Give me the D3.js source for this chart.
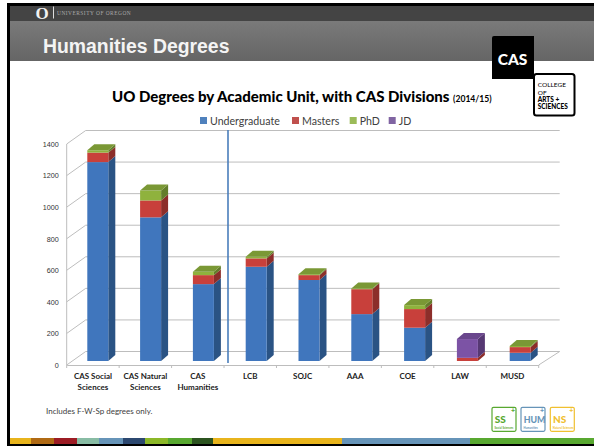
<!DOCTYPE html>
<html lang="en">
<head>
<meta charset="utf-8">
<title>Humanities Degrees</title>
<script src="https://cdn.jsdelivr.net/npm/d3@7"></script>
<style>
  html, body { margin: 0; padding: 0; background: #fff; }
  svg { display: block; }
  text { font-family: Lato, "Open Sans", sans-serif; }
  .head { font-family: "Liberation Sans", Arial, sans-serif; }
</style>
</head>
<body>
<div id="chart"></div>
<script>
var categories = [["CAS Social", "Sciences"], ["CAS Natural", "Sciences"], ["CAS", "Humanities"], ["LCB"], ["SOJC"], ["AAA"], ["COE"], ["LAW"], ["MUSD"]];
var seriesNames = ["Undergraduate", "Masters", "PhD", "JD"];
var undergraduate = [1260, 910, 487, 597, 513, 297, 211, 0, 52];
var masters = [60, 107, 57, 53, 31, 158, 118, 20, 36];
var phd = [15, 63, 21, 10, 6, 5, 25, 0, 7];
var jd = [0, 0, 0, 0, 0, 0, 0, 119, 0];
var yTicks = [0, 200, 400, 600, 800, 1000, 1200, 1400];
var stripeColors = ["#e8b41c", "#b06a14", "#9c1c24", "#88bca4", "#6694b8", "#2c4870", "#8cb828", "#58a830", "#2c5420", "#e8b41c", "#6694b8", "#58a830"];
var stripeStops = [10, 31, 54, 77, 99, 123, 145, 168, 192, 213, 342, 470, 594];

var colors = { Undergraduate: "#3f76bd", Masters: "#c8403a", PhD: "#8fb23e", JD: "#7c52a5" };
var legendColors = { Undergraduate: "#4f81bd", Masters: "#c0504d", PhD: "#9bbb59", JD: "#8064a2" };

var width = 594, height = 446;
var depthX = 19, depthY = 13.5;   // floor depth of the fake 3d box
var barDX = 7, barDY = 6;         // depth of each bar
var baseLift = 4;

var svg = d3.select("#chart").append("svg")
    .attr("width", width)
    .attr("height", height)
    .attr("viewBox", "0 0 " + width + " " + height);

var defs = svg.append("defs");
var grad = defs.append("linearGradient").attr("id", "band").attr("x1", 0).attr("y1", 0).attr("x2", 0).attr("y2", 1);
grad.append("stop").attr("offset", 0).attr("stop-color", "#7a7a7a");
grad.append("stop").attr("offset", 1).attr("stop-color", "#656565");
defs.append("filter").attr("id", "soft").append("feGaussianBlur").attr("stdDeviation", 0.4);

// slide frame
svg.append("rect").attr("x", 7).attr("y", 3).attr("width", 587).attr("height", 443).attr("fill", "#000");
svg.append("rect").attr("x", 10).attr("y", 61).attr("width", 584).attr("height", 377).attr("fill", "#fff");
svg.append("rect").attr("x", 10).attr("y", 6).attr("width", 584).attr("height", 15).attr("fill", "#444");
svg.append("rect").attr("x", 10).attr("y", 21).attr("width", 584).attr("height", 40).attr("fill", "url(#band)");

svg.selectAll("rect.stripe").data(stripeColors).enter().append("rect")
    .attr("class", "stripe")
    .attr("x", function(d, i) { return stripeStops[i]; })
    .attr("y", 438)
    .attr("width", function(d, i) { return stripeStops[i + 1] - stripeStops[i]; })
    .attr("height", 6)
    .attr("fill", function(d) { return d; });

// header text
svg.append("text").attr("x", 35.5).attr("y", 18.5).attr("fill", "#f2f2f2")
    .style("font-family", "'Liberation Serif', serif").style("font-size", "17px").style("font-weight", "bold").text("O");
svg.append("line").attr("x1", 53.5).attr("x2", 53.5).attr("y1", 6.5).attr("y2", 18.5).attr("stroke", "#ddd");
svg.append("text").attr("x", 57).attr("y", 14.5).attr("fill", "#aaa")
    .style("font-family", "'Liberation Serif', serif").style("font-size", "5.4px").style("letter-spacing", "0.5px").text("UNIVERSITY OF OREGON");
svg.append("text").attr("class", "head").attr("x", 43).attr("y", 53).attr("fill", "#f4f4f4")
    .style("font-size", "19.4px").style("font-weight", "bold").text("Humanities Degrees");

// CAS logos
svg.append("path").attr("d", "M494 36h40v43h-42v-41a2 2 0 0 1 2-2z").attr("fill", "#000");
svg.append("text").attr("x", 512.5).attr("y", 64.5).attr("text-anchor", "middle").attr("fill", "#fff")
    .style("font-size", "15.5px").style("font-weight", "900").text("CAS");
svg.append("rect").attr("x", 534).attr("y", 74).attr("width", 40.5).attr("height", 41.5).attr("rx", 2.5)
    .attr("fill", "#fff").attr("stroke", "#000").attr("stroke-width", 2);
[["COLLEGE", 400], ["OF", 400], ["ARTS +", 900], ["SCIENCES", 900]].forEach(function(d, i) {
  svg.append("text").attr("x", 537.7).attr("y", 87.3 + i * 7.2).attr("fill", "#000")
      .style("font-size", "6.5px").style("font-weight", d[1]).text(d[0]);
});

// titles
var title = svg.append("text").attr("x", 112).attr("y", 102).attr("fill", "#000")
    .style("font-size", "15px").style("font-weight", "900");
title.append("tspan").text("UO Degrees by Academic Unit, with CAS Divisions ");
title.append("tspan").style("font-size", "8.6px").style("font-weight", "bold").text("(2014/15)");

// legend
var legendX = [200, 292, 349.7, 388.7];
var legend = svg.selectAll("g.legend").data(seriesNames).enter().append("g")
    .attr("class", "legend")
    .attr("transform", function(d, i) { return "translate(" + legendX[i] + ",117)"; });
legend.append("rect").attr("width", 7).attr("height", 7).attr("fill", function(d) { return legendColors[d]; });
legend.append("text").attr("x", 10).attr("y", 7.5).attr("fill", "#404040").style("font-size", "10.6px").text(function(d) { return d; });

// scales
var x = d3.scaleBand().domain(d3.range(categories.length)).range([66.7, 538.7]);
var barX = d3.scalePoint().domain(d3.range(categories.length)).range([87.3, 509.7]);  // bars sit on the floor, step is a bit wider
var y = d3.scaleLinear().domain([0, 1400]).range([365, 144]);

var stacked = d3.stack().keys(seriesNames).value(function(d, key) { return d[key]; })(
  categories.map(function(c, i) {
    return { Undergraduate: undergraduate[i], Masters: masters[i], PhD: phd[i], JD: jd[i] };
  })
);

// walls
var grid = svg.append("g").attr("fill", "none").attr("stroke", "#bdbdbd").attr("stroke-width", 1);
grid.selectAll("path.wall").data(yTicks).enter().append("path")
    .attr("class", "wall")
    .attr("d", function(d) {
      var yy = y(d);
      return "M" + x.range()[0] + "," + yy + "L" + (x.range()[0] + depthX) + "," + (yy - depthY) + "H" + (x.range()[1] + depthX + 2);
    });
grid.append("path").attr("d", "M" + x.range()[0] + "," + y(0) + "V" + y(1400));
grid.append("path").attr("d", "M" + (x.range()[1]) + "," + y(0) + "L" + (x.range()[1] + depthX + 2) + "," + (y(0) - depthY));
grid.attr("filter", "url(#soft)");

// x axis
var xAxis = d3.axisBottom(x).tickValues([]).tickSize(0);
var xg = svg.append("g").attr("transform", "translate(0," + y(0) + ")").call(xAxis);
xg.select(".domain").attr("stroke", "#bdbdbd");
xg.selectAll("line.tk").data(d3.range(categories.length + 1)).enter().append("line")
    .attr("class", "tk")
    .attr("x1", function(d) { return x.range()[0] + d * x.step(); })
    .attr("x2", function(d) { return x.range()[0] + d * x.step(); })
    .attr("y1", 0).attr("y2", 3).attr("stroke", "#bdbdbd");

var xLabels = svg.selectAll("text.xl").data(categories).enter().append("text")
    .attr("class", "xl")
    .attr("text-anchor", "middle")
    .attr("fill", "#222")
    .style("font-size", "8px")
    .style("font-weight", "bold");
xLabels.selectAll("tspan").data(function(d, i) { return d.map(function(t) { return { t: t, i: i }; }); }).enter().append("tspan")
    .attr("x", function(d) { return x(d.i) + x.step() / 2; })
    .attr("y", function(d, j) { return 379 + j * 11; })
    .text(function(d) { return d.t; });

// y axis labels
var yAxis = d3.axisLeft(y).tickValues(yTicks).tickSize(0).tickPadding(8).tickFormat(d3.format("d"));
var yg = svg.append("g").attr("transform", "translate(66.7,0)").call(yAxis);
yg.select(".domain").remove();
yg.selectAll("text").attr("fill", "#333").style("font-family", "'Liberation Sans', sans-serif").style("font-size", "7.2px");

// bars
var barWidth = 21;
function bx(i) { return barX(i); }
function by(v) { return y(v) - baseLift; }

var bars = svg.append("g").attr("filter", "url(#soft)");
stacked.forEach(function(layer) {
  var base = colors[layer.key];
  var g = bars.append("g");
  var visible = layer.map(function(d, i) { return { y0: d[0], y1: d[1], i: i }; })
      .filter(function(d) { return d.y1 > d.y0; });

  g.selectAll("path.side").data(visible).enter().append("path")
      .attr("d", function(d) {
        var r = bx(d.i) + barWidth;
        return "M" + r + "," + by(d.y0) + "L" + (r + barDX) + "," + (by(d.y0) - barDY) +
               "V" + (by(d.y1) - barDY) + "L" + r + "," + by(d.y1) + "Z";
      })
      .attr("fill", d3.color(base).darker(1));

  g.selectAll("rect.front").data(visible).enter().append("rect")
      .attr("x", function(d) { return bx(d.i); })
      .attr("y", function(d) { return by(d.y1); })
      .attr("width", barWidth)
      .attr("height", function(d) { return by(d.y0) - by(d.y1); })
      .attr("fill", base);
});

// top cap in the colour of the highest segment
var tops = categories.map(function(c, i) {
  var last = stacked.filter(function(l) { return l[i][1] > l[i][0]; }).pop();
  return { i: i, v: last[i][1], key: last.key };
});
bars.selectAll("path.cap").data(tops).enter().append("path")
    .attr("d", function(d) {
      var l = bx(d.i), t = by(d.v);
      return "M" + l + "," + t + "h" + barWidth + "l" + barDX + "," + (-barDY) + "h" + (-barWidth) + "Z";
    })
    .attr("fill", function(d) { return d3.color(colors[d.key]).darker(0.45); });

// divider between CAS and the other units
svg.append("line").attr("x1", 228).attr("x2", 228).attr("y1", 130).attr("y2", 363)
    .attr("stroke", "#4a7ebb").attr("stroke-width", 1.6);

svg.append("text").attr("x", 46).attr("y", 414).attr("fill", "#404040").style("font-size", "8px").text("Includes F-W-Sp degrees only.");

// division badges
var badges = [["SS", "Social Sciences", "#58a830", 492, 10], ["HUM", "Humanities", "#6694b8", 521, 8.8], ["NS", "Natural Sciences", "#f0c030", 550.3, 10]];
var badge = svg.selectAll("g.badge").data(badges).enter().append("g")
    .attr("class", "badge")
    .attr("transform", function(d) { return "translate(" + d[3] + ",407.3)"; });
badge.append("rect").attr("width", 24).attr("height", 24).attr("rx", 1.5).attr("fill", "#fff")
    .attr("stroke", function(d) { return d[2]; }).attr("stroke-width", 1.2);
badge.append("text").attr("x", 2.7).attr("y", 15.5).attr("fill", function(d) { return d[2]; })
    .style("font-size", function(d) { return d[4] + "px"; }).style("font-weight", "900").text(function(d) { return d[0]; });
badge.append("text").attr("x", 2.5).attr("y", 22).attr("fill", function(d) { return d[2]; })
    .style("font-size", "2.8px").style("font-weight", "bold").text(function(d) { return d[1]; });
badge.append("text").attr("x", 23).attr("y", 5.5).attr("text-anchor", "end").attr("fill", function(d) { return d[2]; })
    .style("font-size", "7px").style("font-weight", "900").text("+");
</script>
</body>
</html>
